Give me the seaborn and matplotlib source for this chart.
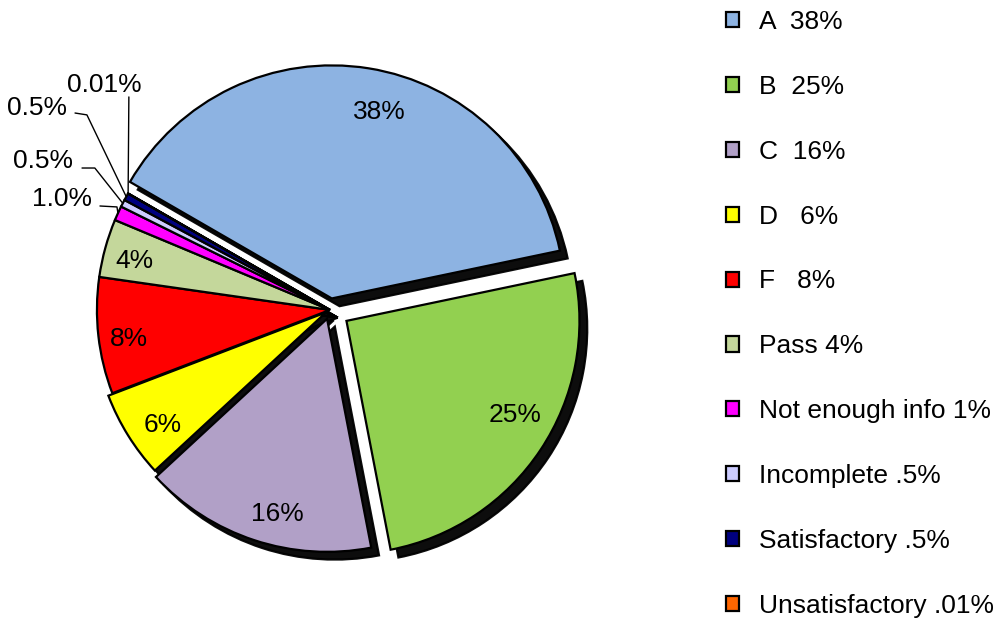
import numpy as np
import matplotlib
matplotlib.use('Agg')
import matplotlib.pyplot as plt
import seaborn as sns

sns.set_theme(style='white')
plt.rcParams['font.family'] = ['Liberation Sans', 'DejaVu Sans']
plt.rcParams['text.color'] = 'black'

# data
grades = ['A', 'B', 'C', 'D', 'F', 'Pass', 'Not enough info', 'Incomplete',
          'Satisfactory', 'Unsatisfactory']
shares = [38, 25, 16, 6, 8, 4, 1, 0.5, 0.5, 0.01]
slice_labels = ['38%', '25%', '16%', '6%', '8%', '4%', '1.0%', '0.5%', '0.5%', '0.01%']
legend_labels = ['A  38%', 'B  25%', 'C  16%', 'D   6%', 'F   8%', 'Pass 4%',
                 'Not enough info 1%', 'Incomplete .5%', 'Satisfactory .5%',
                 'Unsatisfactory .01%']
colors = ['#8DB3E2', '#92D050', '#B1A0C7', '#FFFF00', '#FF0000', '#C4D79B',
          '#FF00FF', '#CCCCFF', '#000080', '#FF6600']
explode = [0.05, 0.085, 0.04, 0.02, 0, 0, 0, 0, 0, 0]

fs = 19

fig = plt.figure(figsize=(10, 6.18), dpi=100)
ax = fig.add_axes([0, 0, 0.7, 1])

wedges, _ = ax.pie(shares, colors=colors, explode=explode, startangle=150,
                   counterclock=False, radius=1,
                   wedgeprops=dict(edgecolor='black', linewidth=1.6),
                   shadow={'ox': 0.024, 'oy': -0.024, 'shade': 1.0, 'alpha': 0.95})

# small nudges for the inside labels (data units)
nudge = {0: (0.065, -0.047), 1: (0.0, 0.09), 2: (0.06, 0.0), 3: (0.04, -0.013),
         4: (0.0, -0.015), 5: (0.0, -0.012)}
# small slices get their labels outside with leader lines
outside = {
    6: dict(text=(-1.021, 0.485), ha='right', line=[(-0.987, 0.446), (-0.914, 0.442)]),
    7: dict(text=(-1.103, 0.648), ha='right', line=[(-1.064, 0.609), (-1.009, 0.609)]),
    8: dict(text=(-1.129, 0.876), ha='right', line=[(-1.094, 0.845), (-1.043, 0.837)]),
    9: dict(text=(-0.970, 0.974), ha='center', line=[(-0.863, 0.914)]),
}
for i, w in enumerate(wedges):
    mid = np.deg2rad((w.theta1 + w.theta2) / 2)
    cx, cy = w.center
    if i in outside:
        o = outside[i]
        ax.text(*o['text'], slice_labels[i], ha=o['ha'], va='center_baseline',
                fontsize=fs, color='black')
        tx, ty = cx + np.cos(mid), cy + np.sin(mid)
        pts = o['line'] + [(tx, ty)]
        ax.plot([p[0] for p in pts], [p[1] for p in pts], color='black', lw=1.0)
    else:
        r = 0.87
        dx, dy = nudge.get(i, (0, 0))
        ax.text(cx + r * np.cos(mid) + dx, cy + r * np.sin(mid) + dy, slice_labels[i],
                ha='center', va='center_baseline', fontsize=fs, color='black')

ax.set_xlim(-1.416, 1.588)
ax.set_ylim(-1.322, 1.330)
ax.set_aspect('equal', adjustable='datalim')
ax.axis('off')

leg = fig.legend(wedges, legend_labels, loc='upper left',
                 bbox_to_anchor=(0.702, 1.0225), frameon=False, fontsize=fs,
                 handlelength=0.5, handleheight=0.5, handletextpad=0.75,
                 labelspacing=1.55)

fig.savefig('out.png', dpi=100)
